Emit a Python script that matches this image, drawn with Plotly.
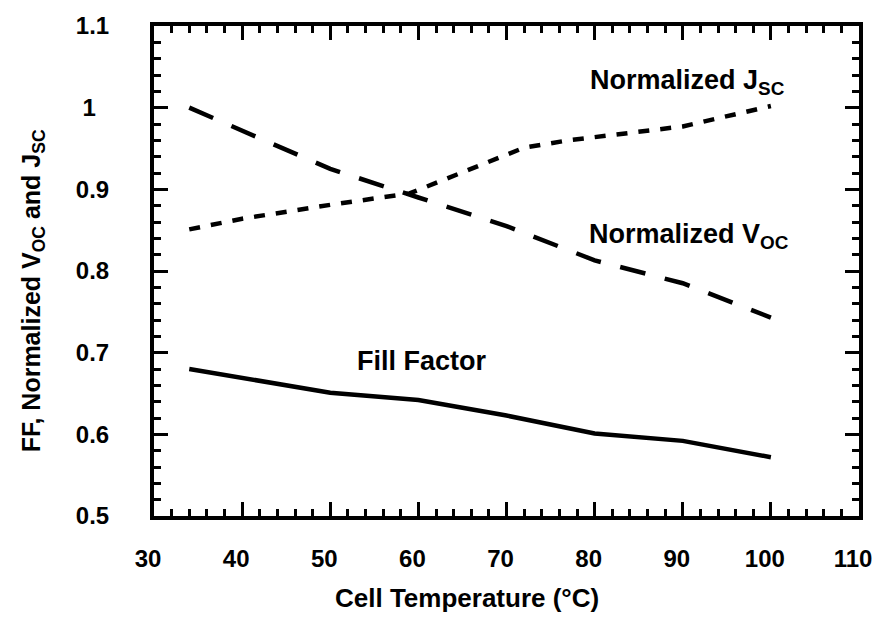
import plotly.graph_objects as go

# ---- data ----
temps_ff = [34, 50, 60, 70, 80, 90, 100]
fill_factor = [0.680, 0.651, 0.642, 0.623, 0.601, 0.592, 0.572]

temps_voc = [34, 50, 60, 70, 80, 90, 100]
norm_voc = [1.000, 0.925, 0.890, 0.855, 0.813, 0.785, 0.743]

temps_jsc = [34, 40, 50, 59, 72, 77, 90, 100]
norm_jsc = [0.851, 0.864, 0.881, 0.895, 0.951, 0.960, 0.977, 1.002]

x_tick_vals = [30, 40, 50, 60, 70, 80, 90, 100, 110]
y_tick_vals = [0.5, 0.6, 0.7, 0.8, 0.9, 1.0, 1.1]
y_tick_text = ["0.5", "0.6", "0.7", "0.8", "0.9", "1\u00a0\u00a0", "1.1"]

FONT = "Liberation Sans, Arial, Helvetica, sans-serif"
BOLD = dict(family=FONT, color="black", weight="bold")

fig = go.Figure()
fig.add_trace(go.Scatter(x=temps_ff, y=fill_factor, mode="lines",
                         line=dict(color="black", width=4.5), name="Fill Factor"))
fig.add_trace(go.Scatter(x=temps_voc, y=norm_voc, mode="lines",
                         line=dict(color="black", width=4.5, dash="26px,20px"),
                         name="Normalized Voc"))
fig.add_trace(go.Scatter(x=temps_jsc, y=norm_jsc, mode="lines",
                         line=dict(color="black", width=4.5, dash="11px,11px"),
                         name="Normalized Jsc"))

fig.add_annotation(x=79.3, y=1.032, xref="x", yref="y", xanchor="left", yanchor="middle",
                   text="Normalized J<sub>SC</sub>", showarrow=False,
                   font=dict(size=27, **BOLD))
fig.add_annotation(x=79.1, y=0.843, xref="x", yref="y", xanchor="left", yanchor="middle",
                   text="Normalized V<sub>OC</sub>", showarrow=False,
                   font=dict(size=27, **BOLD))
fig.add_annotation(x=52.8, y=0.6895, xref="x", yref="y", xanchor="left", yanchor="middle",
                   text="Fill Factor", showarrow=False,
                   font=dict(size=27, **BOLD))
fig.add_annotation(x=0.444, y=-0.168, xref="paper", yref="paper", xanchor="center", yanchor="middle",
                   text="Cell Temperature (°C)", showarrow=False,
                   font=dict(size=26, **BOLD))
fig.add_annotation(x=-0.172, y=0.46, xref="paper", yref="paper", xanchor="center", yanchor="middle",
                   text="FF, Normalized V<sub>OC</sub> and J<sub>SC</sub>", showarrow=False,
                   textangle=-90, font=dict(size=25, **BOLD))

axis_common = dict(
    showline=True, linewidth=4, linecolor="black", mirror="ticks",
    ticks="inside", ticklen=14, tickwidth=3, tickcolor="black",
    showgrid=False, zeroline=False,
    tickfont=dict(size=24, **BOLD),
)

fig.update_xaxes(range=[30, 110], tickvals=x_tick_vals, ticklabelstandoff=18, ticklabelshift=-6,
                 minor=dict(dtick=2, ticks="inside", ticklen=7, tickwidth=2.5, tickcolor="black", showgrid=False),
                 **axis_common)
fig.update_yaxes(range=[0.5, 1.1], tickvals=y_tick_vals, ticktext=y_tick_text, ticklabelstandoff=36,
                 minor=dict(dtick=0.02, ticks="inside", ticklen=7, tickwidth=2.5, tickcolor="black", showgrid=False),
                 **axis_common)

fig.update_layout(width=884, height=618, showlegend=False,
                  margin=dict(l=154, r=19, t=20, b=102),
                  paper_bgcolor="white", plot_bgcolor="white")

# remove the default 8px page margin so the figure fills the 884x618 window exactly
fig.write_html("out.html",
               config={"displayModeBar": False},
               post_script="document.body.style.margin='0px';document.body.style.overflow='hidden';")
